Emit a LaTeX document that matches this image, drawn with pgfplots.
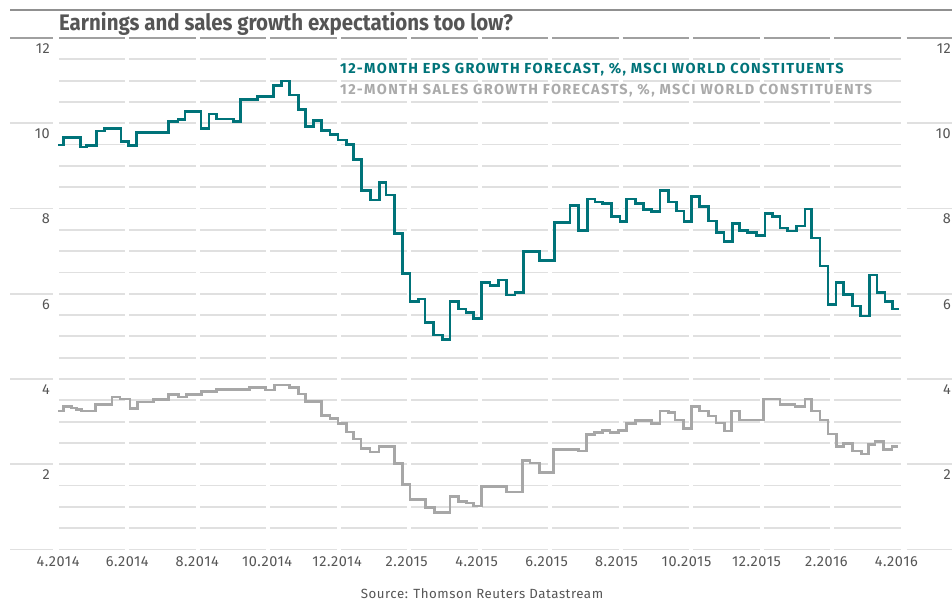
\documentclass[border=0pt]{standalone}
\usepackage{pgfplots}
\pgfplotsset{compat=1.18}
\usepackage{fontspec}
\setmainfont{Fira Sans}
\newfontfamily\titlefont[FakeStretch=0.91]{Fira Sans}
\newfontfamily\legfont[LetterSpace=9.5]{Fira Sans}
\newfontfamily\tickfont[LetterSpace=4]{Fira Sans}
\definecolor{tealc}{RGB}{0,115,121}
\definecolor{salesc}{RGB}{167,167,167}
\definecolor{gridc}{RGB}{224,224,224}
\definecolor{topc}{RGB}{160,160,160}
\definecolor{textc}{RGB}{85,85,85}
\definecolor{legg}{RGB}{170,170,170}
\definecolor{titlec}{RGB}{85,85,85}

\pgfplotstableread{
m v
0.01 9.49
0.15 9.66
0.65 9.44
0.82 9.47
1.10 9.82
1.32 9.88
1.79 9.57
2.00 9.47
2.24 9.78
3.14 10.04
3.41 10.09
3.61 10.27
4.07 9.88
4.30 10.22
4.51 10.10
4.99 10.04
5.20 10.55
5.67 10.62
6.13 10.88
6.36 10.99
6.58 10.66
6.84 10.33
7.05 9.93
7.26 10.06
7.50 9.83
7.74 9.74
7.97 9.61
8.20 9.50
8.40 9.15
8.64 8.43
8.90 8.20
9.14 8.61
9.33 8.32
9.57 7.42
9.81 6.48
10.01 5.81
10.25 5.88
10.44 5.32
10.68 5.03
10.94 4.93
11.15 5.81
11.39 5.64
11.61 5.56
11.82 5.42
12.05 6.26
12.29 6.20
12.53 6.32
12.75 5.97
13.00 6.03
13.24 6.99
13.69 6.78
14.12 7.67
14.57 8.07
14.80 7.48
15.06 8.22
15.28 8.15
15.50 8.11
15.75 7.82
15.99 7.69
16.18 8.22
16.42 8.11
16.65 7.98
16.89 7.93
17.13 8.43
17.36 8.15
17.60 7.94
17.81 7.69
18.03 8.28
18.26 8.04
18.50 7.71
18.74 7.43
18.95 7.22
19.18 7.65
19.38 7.48
19.62 7.43
19.88 7.36
20.11 7.89
20.33 7.82
20.54 7.54
20.75 7.47
21.00 7.59
21.25 7.99
21.44 7.31
21.68 6.65
21.91 5.75
22.13 6.27
22.34 5.99
22.61 5.71
22.84 5.48
23.08 6.44
23.30 6.03
23.53 5.81
23.75 5.64
23.93 5.64
}\epsdata

\pgfplotstableread{
m v
0.01 3.25
0.15 3.36
0.39 3.32
0.53 3.29
0.67 3.25
1.07 3.40
1.54 3.58
1.76 3.53
2.05 3.31
2.27 3.46
2.71 3.52
3.14 3.64
3.42 3.58
3.66 3.64
4.09 3.70
4.51 3.76
5.44 3.80
5.91 3.74
6.15 3.86
6.58 3.80
6.84 3.65
7.05 3.48
7.50 3.14
7.74 3.08
7.97 2.96
8.21 2.76
8.40 2.59
8.62 2.37
8.88 2.29
9.13 2.42
9.57 2.02
9.80 1.53
10.01 1.18
10.46 0.98
10.71 0.86
11.15 1.25
11.39 1.13
11.63 1.09
11.82 1.02
12.05 1.47
12.75 1.35
13.22 2.08
13.43 2.03
13.69 1.80
14.09 2.35
14.80 2.31
15.04 2.70
15.26 2.75
15.50 2.80
15.70 2.75
15.94 2.80
16.18 2.96
16.42 3.02
16.89 2.96
17.13 3.25
17.36 3.21
17.55 3.04
17.79 2.84
18.03 3.36
18.25 3.25
18.50 3.13
18.72 2.97
18.96 2.78
19.17 3.25
19.38 3.04
20.07 3.53
20.54 3.41
20.97 3.36
21.25 3.53
21.44 3.25
21.68 3.04
21.91 2.71
22.15 2.41
22.34 2.49
22.61 2.31
22.86 2.24
23.05 2.47
23.24 2.53
23.48 2.35
23.73 2.41
23.91 2.41
}\salesdata

\begin{document}
\begin{tikzpicture}
\useasboundingbox (0pt,-601pt) rectangle (952pt,0pt);
\begin{scope}[x=1pt,y=-1pt]
  % top rule
  \draw[color=topc!90!black, line width=2pt] (10,10) -- (952,10);
  % minor and major grid segments inside plot area
  \foreach \v in {0,0.5,...,11.5} {
    \pgfmathsetmacro{\yy}{549.5-42.625*\v}
    \foreach \k in {0,...,11} {
      \draw[gridc, line width=1.8pt] ({57+70.458*\k+2},\yy) -- ({57+70.458*(\k+1)-2},\yy);
    }
  }
  % extensions for majors
  \foreach \v in {0,2,...,10} {
    \pgfmathsetmacro{\yy}{549.5-42.625*\v}
    \draw[gridc, line width=1.8pt] (10,\yy) -- (53,\yy);
    \draw[gridc, line width=1.8pt] (906.5,\yy) -- (952,\yy);
  }
  % top line at 12
  \foreach \k in {0,...,11} {
    \draw[topc, line width=2.4pt] ({57+70.458*\k+2},38) -- ({57+70.458*(\k+1)-2},38);
  }
  \draw[topc, line width=2.4pt] (10,38) -- (53,38);
  \draw[topc, line width=2.4pt] (906.5,38) -- (952,38);
  % y labels
  \foreach \v in {2,4,...,12} {
    \pgfmathsetmacro{\yy}{549.5-42.625*\v+10.5}
    \node[anchor=east, inner sep=0pt, text=textc, font=\tickfont\fontsize{14.5}{14.5}\selectfont] at (50,\yy) {\v};
    \node[anchor=east, inner sep=0pt, text=textc, font=\tickfont\fontsize{14.5}{14.5}\selectfont] at (951,\yy) {\v};
  }
  % title
  \node[anchor=base west, inner sep=0pt, text=titlec, font=\titlefont\fontsize{22.5}{22.5}\selectfont\bfseries] at (59,30.7) {Earnings and sales growth expectations too low?};
  % legend texts
  \node[anchor=base west, inner sep=0pt, text=tealc, font=\legfont\fontsize{14.5}{14.5}\selectfont\bfseries] at (340,74) {12-MONTH EPS GROWTH FORECAST, \%, MSCI WORLD CONSTITUENTS};
  \node[anchor=base west, inner sep=0pt, text=legg, font=\legfont\fontsize{14.5}{14.5}\selectfont\bfseries] at (340,95) {12-MONTH SALES GROWTH FORECASTS, \%, MSCI WORLD CONSTITUENTS};
  % source
  \node[anchor=base, inner sep=0pt, text=textc, font=\tickfont\fontsize{13.3}{13.3}\selectfont] at (482,598) {Source: Thomson Reuters Datastream};
\end{scope}
\begin{axis}[
  at={(58pt,-549.5pt)}, anchor=south west,
  scale only axis, width=843.6pt, height=511.5pt,
  xmin=0, xmax=24, ymin=0, ymax=12,
  clip=false,
  axis line style={draw=none},
  major tick length=0pt,
  ytick=\empty,
  xtick={0,1.97,3.96,5.95,7.94,9.92,11.91,13.90,15.89,17.88,19.87,21.86,23.85},
  xticklabels={4.2014,6.2014,8.2014,10.2014,12.2014,2.2015,4.2015,6.2015,8.2015,10.2015,12.2015,2.2016,4.2016},
  xticklabel style={font=\tickfont\fontsize{14.5}{14.5}\selectfont, text=textc, anchor=center, yshift=-12pt},
]
\addplot[const plot, color=salesc, line width=2.7pt] table[x=m,y=v] {\salesdata};
\addplot[const plot, color=tealc, line width=2.7pt] table[x=m,y=v] {\epsdata};
\end{axis}
\end{tikzpicture}
\end{document}
